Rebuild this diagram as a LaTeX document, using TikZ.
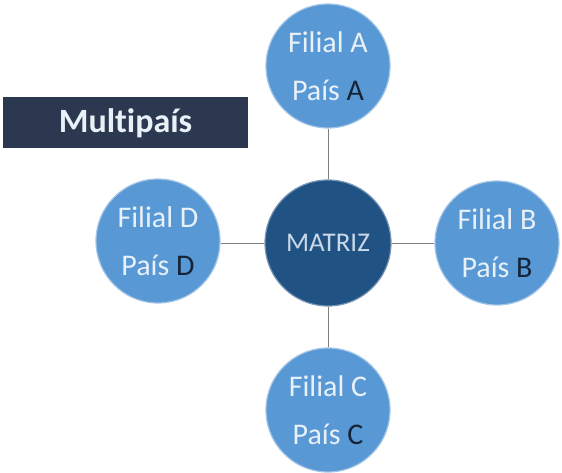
\documentclass[tikz,border=0pt]{standalone}
\usepackage{fontspec}
\setmainfont{Carlito}[Ligatures=NoCommon]
\definecolor{filblue}{RGB}{88,152,212}
\definecolor{matblue}{RGB}{32,82,132}
\definecolor{boxnavy}{RGB}{44,56,80}
\definecolor{letnavy}{RGB}{22,36,58}
\definecolor{txtlight}{RGB}{232,240,248}
\definecolor{linegray}{RGB}{128,128,128}
\newcommand{\pais}[1]{Pa\'is \textcolor{letnavy}{#1}}
\begin{document}
\begin{tikzpicture}[x=1pt, y=-1pt,
    filial/.style={circle, minimum size=124pt, inner sep=0pt, fill=filblue,
      draw=filblue!55!white, line width=1.2pt, text=txtlight, align=center,
      font=\fontsize{30}{48}\selectfont},
    matriz/.style={circle, minimum size=126pt, inner sep=0pt, fill=matblue,
      draw=matblue!60!white, line width=1.2pt, text=txtlight!85!matblue,
      font=\fontsize{27}{32}\selectfont},
    link/.style={draw=linegray, line width=0.8pt}]
    \useasboundingbox (0,0) rectangle (562,473);

    \node [fill=boxnavy, minimum width=245pt, minimum height=51pt,
      text=txtlight, font=\fontsize{34}{38}\selectfont\bfseries] (tipo) at (125.5,123) {Mult\kern0pt ipa\'is};

    \node [matriz] (mat) at (328,243) {MATRIZ};
    \node [filial] (fa) at (328,66) {Filial A\\\pais{A}};
    \node [filial] (fb) at (497,243) {Filial B\\\pais{B}};
    \node [filial] (fc) at (328,410) {Filial C\\\pais{C}};
    \node [filial] (fd) at (158,241) {Filial D\\\pais{D}};

    \path [link] (mat) -- (fa);
    \path [link] (mat) -- (fb);
    \path [link] (mat) -- (fc);
    \path [link] (mat.west) -- (fd.east |- mat.west);

\end{tikzpicture}
\end{document}
